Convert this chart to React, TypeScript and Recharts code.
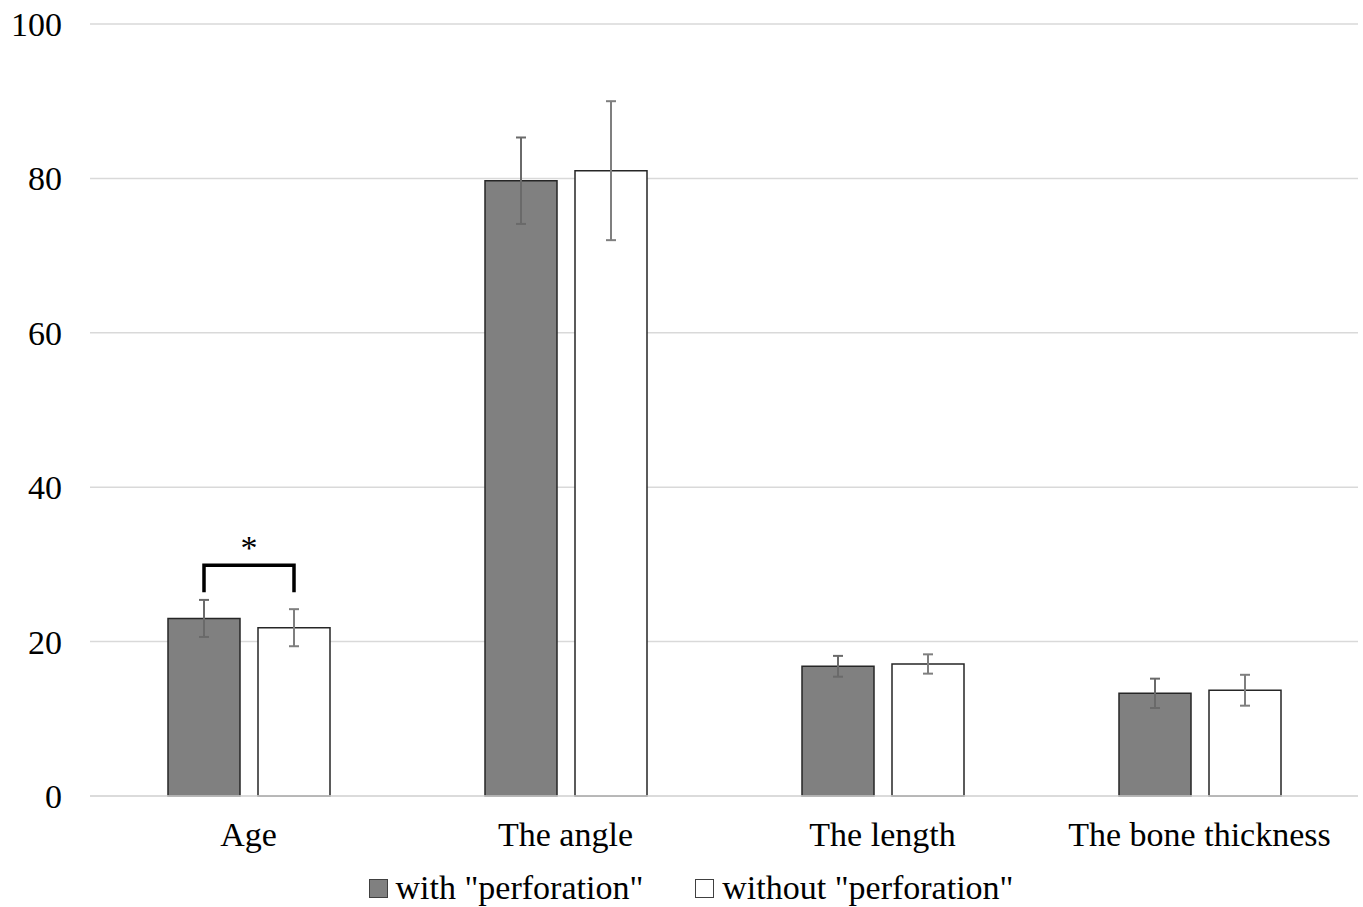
import { BarChart, Bar, XAxis, YAxis, CartesianGrid, Legend, ErrorBar, LabelList } from 'recharts';

const categories = ['Age', 'The angle', 'The length', 'The bone thickness'];
const withPerforation = [23.0, 79.7, 16.8, 13.3];
const withErr = [2.4, 5.6, 1.35, 1.9];
const withoutPerforation = [21.8, 81.0, 17.1, 13.7];
const withoutErr = [2.4, 9.0, 1.25, 2.0];
const yTicks = [0, 20, 40, 60, 80, 100];

// significance bracket over the Age pair
const bracketTop = 29.9;
const bracketLegDrop = 3.5;

const data = categories.map((name, i) => ({
  name,
  with: withPerforation[i],
  withErr: withErr[i],
  without: withoutPerforation[i],
  withoutErr: withoutErr[i],
}));

const font = '"Liberation Serif", "Times New Roman", serif';
const BAR = 72;
const GAP = 18;

function Bracket(props: any) {
  const { x, y, width, height, value, index } = props;
  if (index !== 0) return null;
  const scale = height / value;
  const base = y + height;
  const x1 = x + width / 2;
  const x2 = x1 + width + GAP;
  const top = base - bracketTop * scale;
  const leg = top + bracketLegDrop * scale;
  return (
    <g>
      <path d={`M${x1},${leg} L${x1},${top} L${x2},${top} L${x2},${leg}`} fill="none" stroke="#000" strokeWidth={3.5} />
      <text x={(x1 + x2) / 2} y={top - 6} textAnchor="middle" fontFamily={font} fontSize={34} fill="#000">
        *
      </text>
    </g>
  );
}

function LegendContent() {
  const items = [
    { label: 'with "perforation"', fill: '#808080', stroke: '#404040' },
    { label: 'without "perforation"', fill: '#ffffff', stroke: '#404040' },
  ];
  return (
    <div style={{ display: 'flex', justifyContent: 'center', gap: 52, fontFamily: font, fontSize: 34, color: '#000', paddingTop: 12, paddingLeft: 24, lineHeight: '40px' }}>
      {items.map((it) => (
        <div key={it.label} style={{ display: 'flex', alignItems: 'center', gap: 8 }}>
          <span style={{ width: 17, height: 17, background: it.fill, border: `1px solid ${it.stroke}`, display: 'inline-block' }} />
          <span>{it.label}</span>
        </div>
      ))}
    </div>
  );
}

export default function App() {
  return (
    <div style={{ width: 1363, height: 907, background: '#fff' }}>
      <style>{`body{margin:0}`}</style>
      <BarChart
        width={1363}
        height={907}
        data={data}
        margin={{ top: 24, right: 5, left: 0, bottom: 0 }}
        barGap={GAP}
        barSize={BAR}
      >
        <CartesianGrid vertical={false} stroke="#d9d9d9" strokeWidth={1.5} />
        <XAxis
          dataKey="name"
          height={60}
          tickLine={false}
          tickSize={0}
          tickMargin={26}
          axisLine={{ stroke: '#d9d9d9', strokeWidth: 1.5 }}
          tick={{ fontFamily: font, fontSize: 34, fill: '#000' }}
        />
        <YAxis
          width={90}
          domain={[0, 100]}
          ticks={yTicks}
          axisLine={false}
          tickLine={false}
          tickSize={0}
          tickMargin={28}
          tick={{ fontFamily: font, fontSize: 34, fill: '#000' }}
        />
        <Legend verticalAlign="bottom" height={51} content={<LegendContent />} />
        <Bar dataKey="with" name='with "perforation"' fill="#808080" stroke="#262626" strokeWidth={1.5} isAnimationActive={false}>
          <ErrorBar dataKey="withErr" width={5} stroke="#6a6a6a" strokeWidth={2} />
          <LabelList dataKey="with" content={<Bracket />} />
        </Bar>
        <Bar dataKey="without" name='without "perforation"' fill="#ffffff" stroke="#262626" strokeWidth={1.5} isAnimationActive={false}>
          <ErrorBar dataKey="withoutErr" width={5} stroke="#7f7f7f" strokeWidth={2} />
        </Bar>
      </BarChart>
    </div>
  );
}
